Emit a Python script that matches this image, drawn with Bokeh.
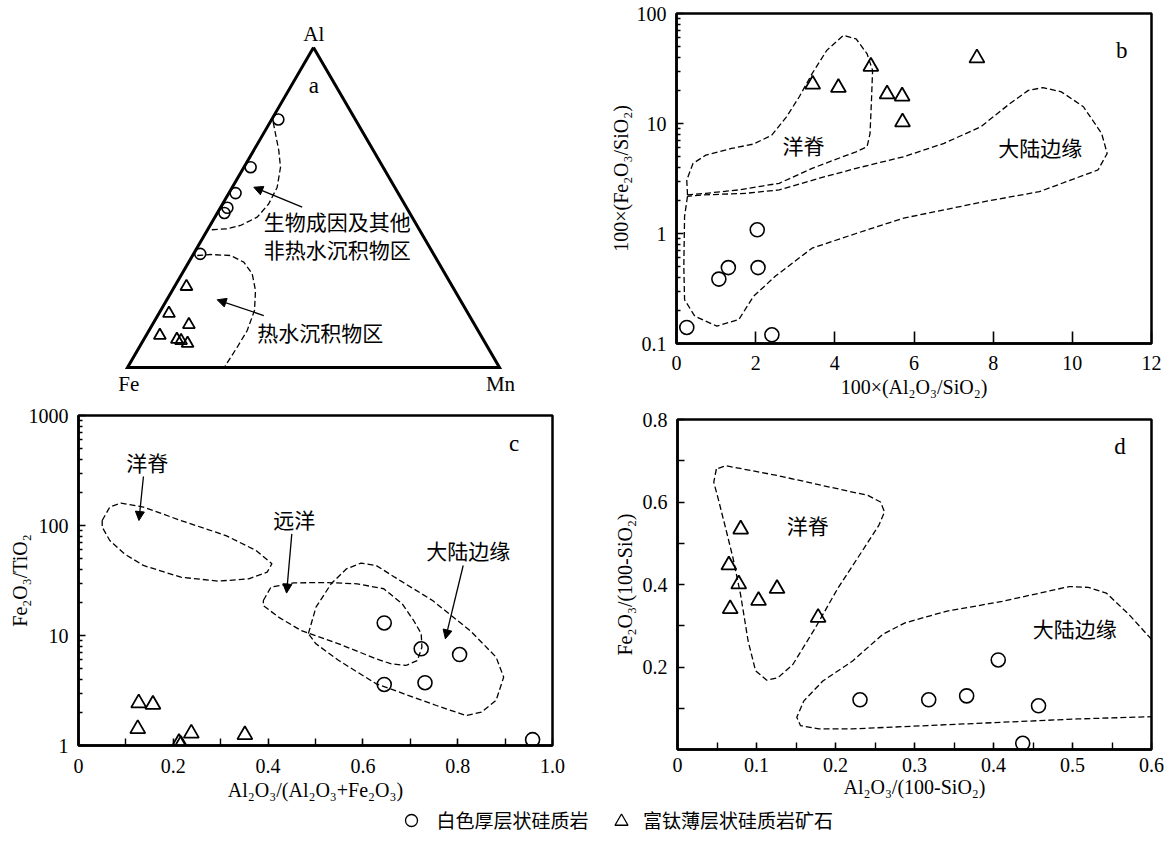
import math
from bokeh.plotting import figure
from bokeh.layouts import column, row
from bokeh.models import Range1d, FixedTicker, CustomJSTickFormatter, Arrow, NormalHead
from bokeh.core.properties import value
from bokeh.embed import file_html
from bokeh.resources import INLINE

SERIF = "Liberation Serif"
CJK = "Noto Sans CJK SC"

# ---------------- data ----------------
# panel a: ternary Al-Fe-Mn, fractions of Al and Mn (Fe = remainder)
a_circ_al = [0.775, 0.626, 0.545, 0.499, 0.483, 0.355]
a_circ_mn = [0.018, 0.018, 0.018, 0.019, 0.019, 0.018]
a_tri_al = [0.253, 0.169, 0.134, 0.100, 0.0875, 0.084, 0.075]
a_tri_mn = [0.032, 0.027, 0.098, 0.037, 0.089, 0.102, 0.124]
a_bio_al = [0.7666, 0.7303, 0.678, 0.626, 0.5634, 0.5116, 0.4697, 0.4438, 0.4334, 0.4303]
a_bio_mn = [0.0084, 0.0327, 0.0677, 0.0983, 0.1207, 0.124, 0.1139, 0.0819, 0.0513, 0.008]
a_hyd_al = [0.35, 0.3531, 0.35, 0.3291, 0.2928, 0.2406, 0.1781, 0.1156, 0.0634, 0.00625, 0.0]
a_hyd_mn = [0.0124, 0.0465, 0.1019, 0.1481, 0.1888, 0.2238, 0.2523, 0.264, 0.2632, 0.2603, 0.2608]
a_corner_al = [1, 0, 0, 1]
a_corner_mn = [0, 0, 1, 0]

# panel b: 100*(Al2O3/SiO2) vs 100*(Fe2O3/SiO2)
b_circ_x = [0.26, 1.07, 1.31, 2.04, 2.06, 2.41]
b_circ_y = [0.14, 0.385, 0.49, 1.08, 0.49, 0.12]
b_tri_x = [3.44, 4.09, 4.91, 5.32, 5.70, 5.71, 7.59]
b_tri_y = [22.7, 21.2, 33.0, 18.5, 17.7, 10.3, 39.4]
b_ridge_x = [0.278, 0.259, 0.417, 0.741, 1.389, 1.944, 2.407, 2.778, 3.102, 3.426, 3.796, 4.213, 4.537,
             4.815, 4.954, 4.926, 4.889, 4.815, 4.537, 3.981, 3.426, 2.593, 1.574, 0.741, 0.278]
b_ridge_y = [2.24, 3.06, 4.33, 5.16, 5.93, 6.5, 7.83, 11.5, 17.5, 28.4, 46.2, 63.2, 58.9,
             43.0, 30.4, 16.3, 8.1, 6.15, 5.53, 4.66, 3.91, 2.86, 2.49, 2.32, 2.24]
b_margin_x = [0.278, 0.204, 0.185, 0.204, 0.463, 1.019, 1.574, 1.944, 2.5, 3.426, 4.537, 5.741, 7.778,
              9.167, 10.648, 10.88, 10.74, 10.28, 9.722, 9.259, 8.889, 8.426, 7.685, 6.759, 5.741,
              4.537, 3.611, 2.593, 1.759, 0.648, 0.278]
b_margin_y = [2.18, 1.43, 0.50, 0.25, 0.177, 0.144, 0.165, 0.268, 0.41, 0.736, 1.0, 1.38, 1.95,
              2.40, 3.78, 5.35, 8.11, 14.2, 19.4, 21.2, 20.0, 15.2, 9.33, 6.6, 4.99,
              3.91, 3.18, 2.49, 2.32, 2.24, 2.18]

# panel c: Al2O3/(Al2O3+Fe2O3) vs Fe2O3/TiO2
c_circ_x = [0.645, 0.723, 0.804, 0.645, 0.731, 0.958]
c_circ_y = [13.0, 7.57, 6.71, 3.59, 3.72, 1.13]
c_tri_x = [0.127, 0.157, 0.125, 0.238, 0.351, 0.212, 0.216]
c_tri_y = [2.43, 2.36, 1.42, 1.29, 1.25, 1.06, 1.02]
c_ridge_x = [0.050, 0.066, 0.0895, 0.137, 0.216, 0.311, 0.3745, 0.408, 0.398, 0.359, 0.295, 0.216,
             0.137, 0.097, 0.066, 0.050, 0.050]
c_ridge_y = [111, 147, 160, 147, 111, 81, 59.3, 44.9, 37.7, 32.7, 31.2, 33.9, 43.3, 55.2, 73.1, 96.6, 111]
c_pel_x = [0.390, 0.406, 0.454, 0.525, 0.588, 0.644, 0.683, 0.707, 0.723, 0.7245, 0.715, 0.691, 0.660,
           0.628, 0.549, 0.4695, 0.422, 0.390, 0.390]
c_pel_y = [20.8, 27.5, 30.1, 30.3, 29.5, 26.6, 19.4, 13.7, 10.4, 7.83, 5.93, 5.34, 5.52,
           6.14, 8.4, 11.1, 14.7, 18.7, 20.8]
c_margin_x = [0.485, 0.501, 0.533, 0.565, 0.596, 0.628, 0.667, 0.747, 0.826, 0.881, 0.897, 0.881, 0.850,
              0.818, 0.755, 0.628, 0.549, 0.501, 0.485]
c_margin_y = [10.4, 18.1, 29.5, 40.3, 45.5, 43.3, 33.9, 20.8, 11.1, 6.36, 4.18, 2.57, 2.01,
              1.87, 2.31, 3.64, 5.93, 8.4, 10.4]

# panel d: Al2O3/(100-SiO2) vs Fe2O3/(100-SiO2)
d_circ_x = [0.231, 0.318, 0.366, 0.406, 0.457, 0.437]
d_circ_y = [0.1205, 0.1205, 0.130, 0.217, 0.106, 0.015]
d_tri_x = [0.080, 0.065, 0.0775, 0.1026, 0.126, 0.0667, 0.178]
d_tri_y = [0.534, 0.447, 0.401, 0.361, 0.390, 0.341, 0.320]
d_ridge_x = [0.0492, 0.0459, 0.0515, 0.061, 0.0704, 0.0799, 0.0894, 0.0988, 0.113, 0.127, 0.146, 0.1745,
             0.203, 0.236, 0.255, 0.262, 0.257, 0.241, 0.193, 0.127, 0.061, 0.0492]
d_ridge_y = [0.680, 0.648, 0.608, 0.536, 0.463, 0.375, 0.263, 0.191, 0.168, 0.174, 0.206, 0.295,
             0.391, 0.4876, 0.544, 0.576, 0.600, 0.616, 0.636, 0.664, 0.688, 0.680]
d_margin_x = [0.600, 0.5716, 0.543, 0.520, 0.496, 0.458, 0.411, 0.340, 0.288, 0.2596, 0.2217, 0.184,
              0.160, 0.151, 0.1556, 0.179, 0.2217, 0.316, 0.411, 0.5054, 0.600]
d_margin_y = [0.267, 0.327, 0.379, 0.393, 0.395, 0.379, 0.359, 0.335, 0.307, 0.279, 0.2145, 0.166,
              0.118, 0.078, 0.058, 0.050, 0.050, 0.058, 0.066, 0.074, 0.0795]

b_xticks = [0, 2, 4, 6, 8, 10, 12]
b_yticks = [0.1, 1, 10, 100]
c_xticks = [0, 0.2, 0.4, 0.6, 0.8, 1.0]
c_yticks = [1, 10, 100, 1000]
d_xticks = [0, 0.1, 0.2, 0.3, 0.4, 0.5, 0.6]
d_yticks = [0.2, 0.4, 0.6, 0.8]

legend_labels = ["白色厚层状硅质岩", "富钛薄层状硅质岩矿石"]

# ---------------- helpers ----------------
S3 = math.sqrt(3) / 2


def tern(al, mn):
    return [m + a / 2 for a, m in zip(al, mn)], [a * S3 for a in al]


def log_minor(decades):
    return [k * 10 ** e for e in decades for k in range(2, 10)]


def fmt(code):
    return CustomJSTickFormatter(code=code)


def no_align(p):
    try:
        p.frame_align = False
    except Exception:
        pass


def make_panel(width, height, xr, yr, ylog, bl, br, bt, bb):
    p = figure(width=width, height=height, x_range=Range1d(*xr), y_range=Range1d(*yr),
               y_axis_type="log" if ylog else "linear", output_backend="svg", toolbar_location=None,
               min_border_left=bl, min_border_right=br, min_border_top=bt, min_border_bottom=bb)
    no_align(p)
    p.grid.visible = False
    p.outline_line_color = "black"
    p.outline_line_width = 2.5
    p.outline_line_alpha = 1.0
    for ax in (p.xaxis[0], p.yaxis[0]):
        ax.axis_line_width = 2.5
        ax.major_tick_in = 7
        ax.major_tick_out = 0
        ax.minor_tick_in = 4
        ax.minor_tick_out = 0
        ax.major_tick_line_width = 1.6
        ax.minor_tick_line_width = 1.4
        ax.major_label_text_font = SERIF
        ax.major_label_text_font_size = "20px"
        ax.major_label_text_color = "black"
        ax.axis_label_text_font = SERIF
        ax.axis_label_text_font_size = "20px"
        ax.axis_label_text_font_style = "normal"
        ax.axis_label_text_color = "black"
    return p


def dashed(p, xs, ys):
    p.line(xs, ys, line_color="black", line_width=1.3, line_dash="6 3")


def points(p, cx, cy, tx, ty, size=14):
    p.scatter(cx, cy, marker="circle", size=size, fill_color=None, line_color="black", line_width=1.6)
    p.scatter(tx, ty, marker="triangle", size=size + 1, fill_color=None, line_color="black", line_width=1.8)


def cjk(p, xs, ys, texts, size="21px", align="center"):
    p.text(x=xs, y=ys, text=texts, text_font=value(CJK), text_font_size=size,
           text_align=align, text_baseline="middle", text_color="black")


def letter(p, x, y, t):
    p.text(x=[x], y=[y], text=[t], text_font=value(SERIF), text_font_size="23px",
           text_align="center", text_baseline="middle", text_color="black")


def arrow(p, x0, y0, x1, y1):
    p.add_layout(Arrow(end=NormalHead(size=9, fill_color="black", line_color="black", line_width=1),
                       x_start=x0, y_start=y0, x_end=x1, y_end=y1, line_width=1.3, line_color="black"))


# ---------------- panel a ----------------
pa = figure(width=590, height=402, x_range=Range1d(-127 / 372, 463 / 372),
            y_range=Range1d(-35 / 369.5, 367 / 369.5), output_backend="svg", toolbar_location=None,
            x_axis_location=None, y_axis_location=None, min_border=0)
no_align(pa)
pa.grid.visible = False
pa.outline_line_color = None
tx, ty = tern(a_corner_al, a_corner_mn)
pa.line(tx, ty, line_color="black", line_width=3, line_join="miter")
for al, mn in ((a_bio_al, a_bio_mn), (a_hyd_al, a_hyd_mn)):
    x, y = tern(al, mn)
    dashed(pa, x, y)
cx, cy = tern(a_circ_al, a_circ_mn)
ttx, tty = tern(a_tri_al, a_tri_mn)
points(pa, cx, cy, ttx, tty, size=11)
pa.text(x=[0.5009, 0.0036, 1.0027], y=[0.903, -0.0442, -0.0442], text=["Al", "Fe", "Mn"],
        text_font=value(SERIF), text_font_size="21px", text_align="center", text_baseline="middle")
letter(pa, 0.5009, 0.7632, "a")
cjk(pa, [0.3664, 0.3664, 0.3486], [0.3978, 0.3212, 0.0956],
    ["生物成因及其他", "非热水沉积物区", "热水沉积物区"], align="left")
arrow(pa, 0.4696, 0.4338, 0.3395, 0.4879)
arrow(pa, 0.3664, 0.1407, 0.2411, 0.1832)

# ---------------- panel b ----------------
pb = make_panel(580, 402, (0, 12), (0.1, 100), True, 86, 19, 13, 59)
pb.xaxis.ticker = FixedTicker(ticks=b_xticks)
pb.yaxis.ticker = FixedTicker(ticks=b_yticks, minor_ticks=log_minor([-1, 0, 1]))
pb.xaxis.formatter = fmt("return tick.toString()")
pb.yaxis.formatter = fmt("return tick.toString()")
pb.xaxis.axis_label = "100×(Al₂O₃/SiO₂)"
pb.yaxis.axis_label = "100×(Fe₂O₃/SiO₂)"
pb.xaxis.major_tick_in = 12
pb.yaxis.major_label_standoff = 10
pb.yaxis.axis_label_standoff = 2
pb.xaxis.major_label_standoff = 12
pb.xaxis.axis_label_standoff = 3
dashed(pb, b_ridge_x, b_ridge_y)
dashed(pb, b_margin_x, b_margin_y)
points(pb, b_circ_x, b_circ_y, b_tri_x, b_tri_y)
cjk(pb, [3.21, 9.19], [6.37, 6.15], ["洋脊", "大陆边缘"])
letter(pb, 11.25, 46.2, "b")

# ---------------- panel c ----------------
pc = make_panel(590, 403, (0, 1), (1, 1000), True, 78, 38, 13, 60)
pc.xaxis.ticker = FixedTicker(ticks=c_xticks, minor_ticks=[0.1, 0.3, 0.5, 0.7, 0.9])
pc.yaxis.ticker = FixedTicker(ticks=c_yticks, minor_ticks=log_minor([0, 1, 2]))
pc.xaxis.formatter = fmt("return tick == 0 ? '0' : tick.toFixed(1)")
pc.yaxis.formatter = fmt("return tick.toString()")
pc.xaxis.minor_tick_in = 7
pc.xaxis.axis_label = "Al₂O₃/(Al₂O₃+Fe₂O₃)"
pc.yaxis.axis_label = "Fe₂O₃/TiO₂"
pc.yaxis.major_label_standoff = 10
pc.yaxis.axis_label_standoff = -5
pc.xaxis.major_label_standoff = 13
pc.xaxis.axis_label_standoff = 3
dashed(pc, c_ridge_x, c_ridge_y)
dashed(pc, c_pel_x, c_pel_y)
dashed(pc, c_margin_x, c_margin_y)
points(pc, c_circ_x, c_circ_y, c_tri_x, c_tri_y)
cjk(pc, [0.145, 0.455, 0.822], [376, 115, 60.1], ["洋脊", "远洋", "大陆边缘"])
letter(pc, 0.919, 560, "c")
arrow(pc, 0.137, 278.6, 0.1275, 111)
arrow(pc, 0.450, 84, 0.439, 24.3)
arrow(pc, 0.8116, 43.3, 0.774, 9.33)

# ---------------- panel d ----------------
pd_ = make_panel(580, 403, (0, 0.6), (0, 0.8), False, 87, 19, 17, 56)
pd_.xaxis.ticker = FixedTicker(ticks=d_xticks, minor_ticks=[0.05, 0.15, 0.25, 0.35, 0.45, 0.55])
pd_.yaxis.ticker = FixedTicker(ticks=d_yticks, minor_ticks=[0.1, 0.3, 0.5, 0.7])
pd_.xaxis.formatter = fmt("return tick == 0 ? '0' : tick.toFixed(1)")
pd_.yaxis.formatter = fmt("return tick.toFixed(1)")
pd_.xaxis.minor_tick_in = 7
pd_.yaxis.minor_tick_in = 7
pd_.xaxis.axis_label = "Al₂O₃/(100-SiO₂)"
pd_.yaxis.axis_label = "Fe₂O₃/(100-SiO₂)"
pd_.yaxis.major_label_standoff = 10
pd_.yaxis.axis_label_standoff = 4
pd_.xaxis.major_label_standoff = 8
pd_.xaxis.axis_label_standoff = 1
dashed(pd_, d_ridge_x, d_ridge_y)
dashed(pd_, d_margin_x, d_margin_y)
points(pd_, d_circ_x, d_circ_y, d_tri_x, d_tri_y)
cjk(pd_, [0.165, 0.503], [0.544, 0.295], ["洋脊", "大陆边缘"])
letter(pd_, 0.56, 0.735, "d")

# ---------------- legend row ----------------
pl = figure(width=1170, height=35, x_range=Range1d(0, 1170), y_range=Range1d(840, 805),
            output_backend="svg", toolbar_location=None, x_axis_location=None, y_axis_location=None,
            min_border=0)
no_align(pl)
pl.grid.visible = False
pl.outline_line_color = None
pl.scatter([411], [820], marker="circle", size=12, fill_color=None, line_color="black", line_width=1.3)
pl.scatter([621], [821], marker="triangle", size=13, fill_color=None, line_color="black", line_width=1.3)
cjk(pl, [436, 642.5], [819, 819], legend_labels, size="19px", align="left")

layout = column(row(pa, pb), row(pc, pd_), pl)
open("out.html", "w").write(file_html(layout, INLINE))
